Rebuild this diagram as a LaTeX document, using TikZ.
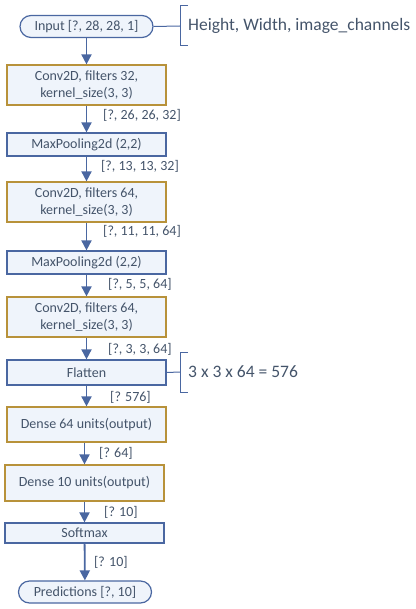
\documentclass[tikz,border=0pt]{standalone}
\usepackage{fontspec}
\setmainfont{Carlito}
\usetikzlibrary{arrows.meta,positioning}
\definecolor{inkblue}{HTML}{44546A}
\definecolor{lineblue}{HTML}{4A67A1}
\definecolor{gold}{HTML}{B8923A}
\definecolor{pale}{HTML}{EFF4FB}
\begin{document}
\begin{tikzpicture}[x=1pt,y=-1pt]
    \tikzset{
        layer/.style={draw=lineblue, fill=pale, line width=1.2pt, minimum width=159pt, text=inkblue,
            font=\fontsize{14}{17}\selectfont, align=center, inner sep=0pt},
        convlayer/.style={layer, draw=gold, minimum height=40pt},
        flatlayer/.style={layer, minimum height=23pt},
        term/.style={layer, minimum width=133pt, minimum height=22pt, rounded corners=11pt},
        dims/.style={text=inkblue, font=\fontsize{14}{16}\selectfont, anchor=west, inner sep=0pt},
        note/.style={text=inkblue, font=\fontsize{17.5}{20}\selectfont, anchor=west, inner sep=0pt},
        flow/.style={draw=lineblue, line width=1.8pt, -{Triangle[width=10pt,length=10pt]}}
    }
    \useasboundingbox (0,0) rectangle (415,609);
    \node[term] (in) at (86.5,26.5) {Input [?, 28, 28, 1]};
    \node[convlayer] (c1) at (86.5,85) {Conv2D, filters 32,\\kernel\_size(3, 3)};
    \node[flatlayer] (p1) at (86.5,144.5) {MaxPooling2d (2,2)};
    \node[convlayer] (c2) at (86.5,202) {Conv2D, filters 64,\\kernel\_size(3, 3)};
    \node[flatlayer] (p2) at (86.5,262.5) {MaxPooling2d (2,2)};
    \node[convlayer] (c3) at (86.5,317) {Conv2D, filters 64,\\kernel\_size(3, 3)};
    \node[flatlayer, minimum height=25pt] (fl) at (86.5,372.5) {Flatten};
    \node[convlayer, minimum height=35pt] (d1) at (86.5,424.5) {Dense 64 units(output)};
    \node[convlayer, minimum height=36pt] (d2) at (84.5,483) {Dense 10 units(output)};
    \node[flatlayer, minimum height=20pt] (sm) at (84.5,533) {Softmax};
    \node[term] (out) at (85,592) {Predictions [?, 10]};

    % tensor shapes along the flow
    \node[dims] (s1) at (103,115) {[?, 26, 26, 32]};
    \node[dims] (s2) at (101,166) {[?, 13, 13, 32]};
    \node[dims] (s3) at (103,231) {[?, 11, 11, 64]};
    \node[dims] (s4) at (108,284) {[?, 5, 5, 64]};
    \node[dims] (s5) at (108,349) {[?, 3, 3, 64]};
    \node[dims] (s6) at (110,397) {[? 576]};
    \node[dims] (s7) at (99,453) {[? 64]};
    \node[dims] (s8) at (104,512) {[? 10]};
    \node[dims] (s9) at (94,562) {[? 10]};

    \draw[flow] (in) -- (c1);
    \draw[flow] (c1) -- (p1);
    \draw[flow] (p1) -- (c2);
    \draw[flow] (c2) -- (p2);
    \draw[flow] (p2) -- (c3);
    \draw[flow] (c3) -- (fl);
    \draw[flow] (fl) -- (d1);
    \draw[flow] (d1.south -| d2) -- (d2);
    \draw[flow] (d2) -- (sm);
    \draw[flow] (sm) -- (out);

    % side notes
    \node[note] (n1) at (188,26) {Height, Width, image\_channels};
    \coordinate (b1) at (180,26);
    \draw[lineblue, line width=1pt] (in.east) -- (b1);
    \draw[lineblue, line width=1pt] (b1) ++(8,-20) -- ++(-8,0) -- ++(0,40) -- ++(8,0);
    \node[note] (n2) at (188,372) {3 x 3 x 64 = 576};
    \coordinate (b2) at (180,372);
    \draw[lineblue, line width=1pt] (fl.east) -- (b2);
    \draw[lineblue, line width=1pt] (b2) ++(8,-20) -- ++(-8,0) -- ++(0,40) -- ++(8,0);
\end{tikzpicture}
\end{document}
